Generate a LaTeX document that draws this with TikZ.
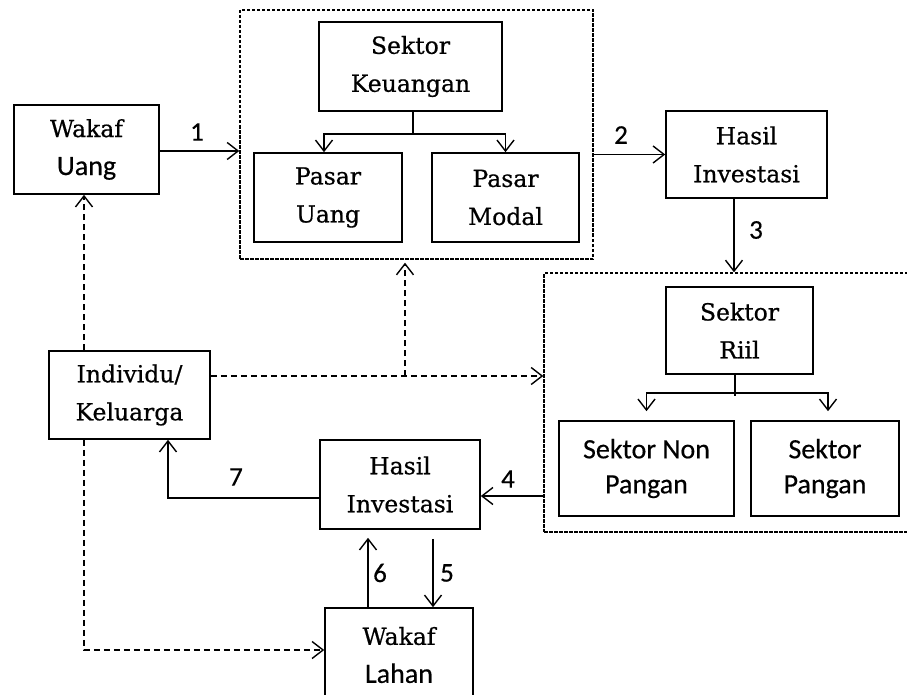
\documentclass[tikz,border=0pt]{standalone}
\usepackage{fontspec}
\setmainfont[FakeBold=0.6]{DejaVu Serif}
\newfontfamily\sansf[FakeBold=0.4]{Carlito}
\usetikzlibrary{arrows.meta}
\newcommand\serfsz{\fontsize{23.5}{38}\selectfont}
\newcommand\sanf{\sansf\fontsize{28}{35}\selectfont}
\newcommand\numf{\sansf\fontsize{27}{30}\selectfont}
\begin{document}
\begin{tikzpicture}[x=1pt,y=-1pt,
  box/.style={draw, line width=1.6pt, inner sep=0pt, align=center, font=\serfsz, text=black},
  grp/.style={draw, line width=1.4pt, dash pattern=on 3.5pt off 1.5pt, inner sep=0pt},
  ln/.style={line width=1.5pt},
  arr/.style={line width=1.5pt, -{Straight Barb[length=11pt,width=17pt,line width=1.4pt]}},
  darr/.style={arr, dash pattern=on 6pt off 4pt},
  lbl/.style={font=\numf, inner sep=0pt, text=black}]
\useasboundingbox (0,0) rectangle (907,695);
% groups
\node[grp, minimum width=353pt, minimum height=249pt] (fin) at (416.5,134.5) {};
\node[grp, minimum width=370pt, minimum height=259pt] (riil) at (729,402.5) {};
% boxes
\node[box, minimum width=145pt, minimum height=89pt] (wu) at (86.5,149.5) {Wakaf\\{\sanf Uang}};
\node[box, minimum width=183pt, minimum height=89pt] (sk) at (410.5,66.5) {Sektor\\Keuangan};
\node[box, minimum width=148pt, minimum height=89pt] (pu) at (328,197.5) {Pasar\\Uang};
\node[box, minimum width=147pt, minimum height=89pt] (pm) at (505.5,197.5) {Pasar\\Modal};
\node[box, minimum width=161pt, minimum height=87pt] (hi1) at (746.5,154.5) {Hasil\\Investasi};
\node[box, minimum width=147pt, minimum height=87pt] (sr) at (739.5,330.5) {Sektor\\Riil};
\node[box, minimum width=175pt, minimum height=95pt, font=\sanf] (snp) at (646.5,468.5) {Sektor Non\\Pangan};
\node[box, minimum width=148pt, minimum height=95pt, font=\sanf] (sp) at (825,468.5) {Sektor\\Pangan};
\node[box, minimum width=161pt, minimum height=88pt] (ik) at (129.5,395) {Individu/\\Keluarga};
\node[box, minimum width=160pt, minimum height=89pt] (hi2) at (400,484.5) {Hasil\\Investasi};
\node[box, minimum width=148pt, minimum height=94pt] (wl) at (399,655) {Wakaf\\{\sanf Lahan}};
% helper coordinates
\coordinate (cx) at (84,0);
\coordinate (dy) at (0,376);
\coordinate (bx) at (405,376);
\coordinate (ly) at (0,650);
\coordinate (y7) at (0,498);
\coordinate (x7) at (168,0);
\coordinate (y4) at (0,496);
\coordinate (c6) at (368,0);
\coordinate (c5) at (433,0);
\coordinate (y1) at (0,151);
% top flow
\draw[arr] (wu.east |- y1) -- (fin.west |- y1);
\node[lbl] (l1) at (197,132) {1};
\draw[ln] ([xshift=2.5pt]sk.south) -- ++(0,22) coordinate (bk);
\draw[arr] (bk) -| ([xshift=-4pt]pu.north);
\draw[arr] (bk) -| (pm.north);
\draw[arr] (hi1.west -| fin.east) -- (hi1.west);
\node[lbl] (l2) at (621,135) {2};
\draw[arr] ([xshift=-12.5pt]hi1.south) -- ([xshift=-12.5pt]hi1.south |- riil.north);
\node[lbl] (l3) at (756,230) {3};
% riil branch
\coordinate (br) at ([xshift=-4.5pt,yshift=-18pt]sr.south);
\draw[ln] ([xshift=-4.5pt]sr.south) -- ++(0,21);
\draw[arr] (br) -| ([yshift=9pt]snp.north);
\draw[arr] (br) -| ([xshift=3pt,yshift=9pt]sp.north);
% dashed flows
\draw[darr] (ik.north -| cx) -- (wu.south -| cx);
\draw[darr] (ik.east |- dy) -- (riil.west |- dy);
\draw[darr, shorten >=3pt] (bx) -- (bx |- fin.south);
\draw[darr] (ik.south -| cx) |- (wl.west |- ly);
% bottom flow
\draw[arr] (hi2.west |- y7) -| (ik.south -| x7);
\node[lbl] (l7) at (236,477) {7};
\draw[arr] (riil.west |- y4) -- (hi2.east |- y4);
\node[lbl] (l4) at (508,479) {4};
\draw[arr, shorten >=8pt] (wl.north -| c6) -- (hi2.south -| c6);
\node[lbl] (l6) at (380,573) {6};
\draw[arr, shorten <=9pt] (hi2.south -| c5) -- (wl.north -| c5);
\node[lbl] (l5) at (447,573) {5};
\end{tikzpicture}
\end{document}
